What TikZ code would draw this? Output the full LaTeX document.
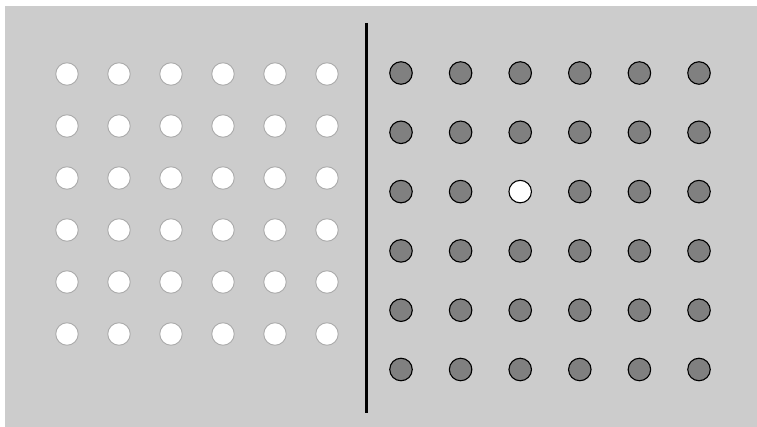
\documentclass[tikz,border=0pt]{standalone}
\begin{document}
\begin{tikzpicture}[x=1pt,y=-1pt,
  lightdot/.style={circle,draw=black!33,fill=white,line width=0.9pt,minimum size=22.5pt,inner sep=0pt},
  darkdot/.style={circle,draw=black,fill=black!50,line width=1.1pt,minimum size=22.5pt,inner sep=0pt},
  hidot/.style={circle,draw=black,fill=white,line width=1.1pt,minimum size=22.5pt,inner sep=0pt}]
\useasboundingbox (0,0) rectangle (757,427);
\fill[white] (0,0) rectangle (757,427);
\fill[black!20] (5,6) rectangle (757,427);
\draw[line width=2.6pt] (366.7,23) coordinate (ltop) -- (366.7,413) coordinate (lbot);
\foreach \i in {0,...,5}{
  \foreach \j in {0,...,5}{
    \node[lightdot] (l\i\j) at ({67+52*\i},{74+52*\j}) {};
  }
}
\foreach \i in {0,...,5}{
  \foreach \j in {0,...,5}{
    \ifnum\i=2 \ifnum\j=2
      \node[hidot] (r\i\j) at ({401+59.6*\i},{73+59.3*\j}) {};
    \else
      \node[darkdot] (r\i\j) at ({401+59.6*\i},{73+59.3*\j}) {};
    \fi\else
      \node[darkdot] (r\i\j) at ({401+59.6*\i},{73+59.3*\j}) {};
    \fi
  }
}
\end{tikzpicture}
\end{document}
